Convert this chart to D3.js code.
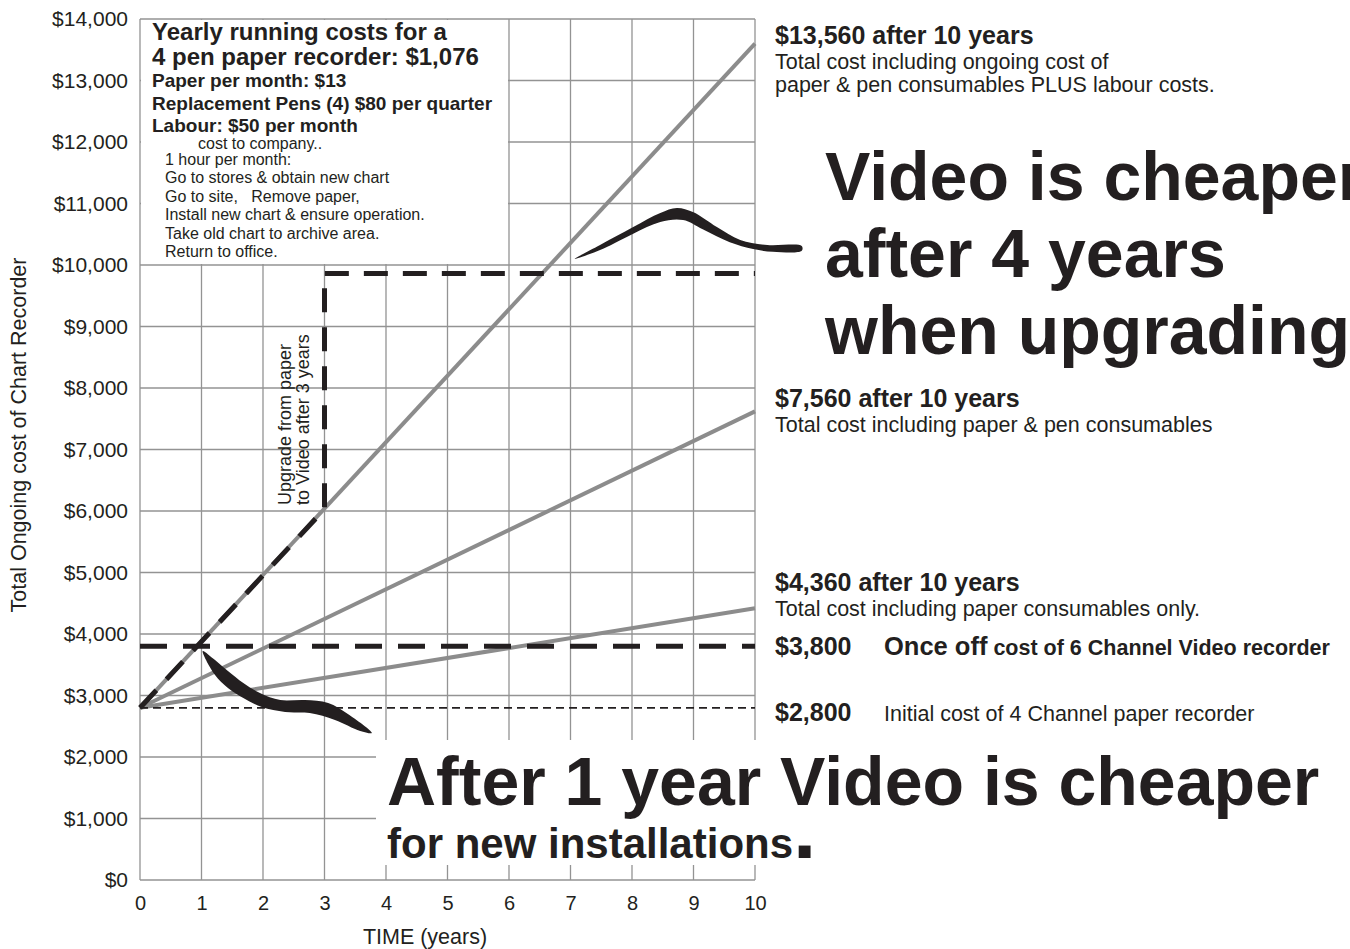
<!DOCTYPE html>
<html>
<head>
<meta charset="utf-8">
<script src="https://cdn.jsdelivr.net/npm/d3@7.9.0/dist/d3.min.js"></script>
<style>
  body { margin: 0; background: #fff; }
  svg { display: block; font-family: "Liberation Sans", Arial, sans-serif; }
  text { fill: #231f20; white-space: pre; }
</style>
</head>
<body>
<svg id="chart" width="1350" height="949"></svg>
<script>
// ---- data (years / dollars) ----
const xTicks = [0, 1, 2, 3, 4, 5, 6, 7, 8, 9, 10];
const yTicks = [0, 1000, 2000, 3000, 4000, 5000, 6000, 7000, 8000, 9000, 10000, 11000, 12000, 13000, 14000];
const lineYears = [0, 10];
const labourCost = [2800, 13600];   // paper + pens + labour
const pensCost = [2800, 7620];      // paper + pens
const paperCost = [2800, 4420];     // paper only
const endLabels = [13560, 7560, 4360];
const videoCost = 3800;
const paperRecorderCost = 2800;
const upgradePath = [[0, 2800], [3, 6030], [3, 9860], [10, 9860]];
// decorative swooshes, outline in data units
const upperSwoosh = [[7.07, 10100], [7.48, 10325], [8.02, 10618], [8.46, 10846], [8.73, 10927], [8.99, 10862],
  [9.38, 10618], [9.76, 10407], [10.2, 10325], [10.76, 10309], [10.76, 10230], [10.29, 10215], [9.97, 10260],
  [9.59, 10370], [9.15, 10580], [8.83, 10730], [8.46, 10700], [8.02, 10510], [7.53, 10266]];
const lowerSwoosh = [[1.02, 3724], [1.22, 3577], [1.43, 3398], [1.68, 3203], [1.95, 3041], [2.28, 2927],
  [2.68, 2927], [3.06, 2878], [3.38, 2699], [3.77, 2390], [3.58, 2423], [3.17, 2602], [2.76, 2715],
  [2.36, 2732], [1.98, 2813], [1.68, 2959], [1.43, 3122], [1.22, 3333]];

const svg = d3.select("#chart");
const x = d3.scaleLinear().domain([0, 10]).range([140, 755]);
const y = d3.scaleLinear().domain([0, 14000]).range([880, 19]);
const ink = "#231f20";
const gridColor = "#939393";
const lineColor = "#8c8c8c";

// grid
const grid = svg.append("g").attr("stroke", gridColor).attr("stroke-width", 1.3);
grid.selectAll("line.v").data(xTicks).join("line")
  .attr("x1", (d) => x(d)).attr("x2", (d) => x(d))
  .attr("y1", y(0)).attr("y2", y(14000));
grid.selectAll("line.h").data(yTicks).join("line")
  .attr("x1", x(0)).attr("x2", x(10))
  .attr("y1", (d) => y(d)).attr("y2", (d) => y(d));

// white panels behind the text blocks
svg.append("rect")
  .attr("x", x(0) + 1).attr("y", y(14000) + 1)
  .attr("width", x(6) - x(0) - 2).attr("height", y(10000) - y(14000) - 2)
  .attr("fill", "#fff");
svg.append("rect")
  .attr("x", 376).attr("y", 740).attr("width", 970).attr("height", 125)
  .attr("fill", "#fff");

// cost lines
const line = d3.line().x((d) => x(d[0])).y((d) => y(d[1]));
[labourCost, pensCost, paperCost].forEach((vals) => {
  svg.append("path")
    .attr("d", line(lineYears.map((yr, i) => [yr, vals[i]])))
    .attr("fill", "none")
    .attr("stroke", lineColor)
    .attr("stroke-width", 4);
});

// recorder purchase costs
svg.append("line")
  .attr("x1", x(0)).attr("x2", x(10))
  .attr("y1", y(paperRecorderCost)).attr("y2", y(paperRecorderCost))
  .attr("stroke", ink).attr("stroke-width", 1.8).attr("stroke-dasharray", "8,5");
svg.append("line")
  .attr("x1", x(0)).attr("x2", x(10))
  .attr("y1", y(videoCost)).attr("y2", y(videoCost))
  .attr("stroke", ink).attr("stroke-width", 5).attr("stroke-dasharray", "27,16");

// upgrade path
svg.append("path")
  .attr("d", line(upgradePath))
  .attr("fill", "none")
  .attr("stroke", ink)
  .attr("stroke-width", 5)
  .attr("stroke-dasharray", "24,15");

// swooshes
const shape = d3.line().x((d) => x(d[0])).y((d) => y(d[1])).curve(d3.curveCatmullRomClosed);
[upperSwoosh, lowerSwoosh].forEach((pts) => {
  svg.append("path").attr("d", shape(pts)).attr("fill", ink);
});

// axes labels
const yAxis = svg.append("g")
  .attr("transform", `translate(${x(0)},0)`)
  .call(d3.axisLeft(y).tickValues(yTicks).tickSize(0).tickPadding(12).tickFormat(d3.format("$,")));
yAxis.select(".domain").remove();
yAxis.selectAll("text").attr("font-size", 21).attr("font-family", null).attr("fill", ink);

const xAxis = svg.append("g")
  .attr("transform", `translate(0,${y(0)})`)
  .call(d3.axisBottom(x).tickValues(xTicks).tickSize(0).tickPadding(16));
xAxis.select(".domain").remove();
xAxis.selectAll("text").attr("font-size", 20).attr("font-family", null).attr("fill", ink);

svg.append("text")
  .attr("transform", "translate(26,435) rotate(-90)")
  .attr("text-anchor", "middle").attr("font-size", 21.5)
  .text("Total Ongoing cost of Chart Recorder");
svg.append("text")
  .attr("x", 425).attr("y", 944)
  .attr("text-anchor", "middle").attr("font-size", 21.5)
  .text("TIME (years)");

// helper
function label(xp, yp, str, size, bold) {
  return svg.append("text")
    .attr("x", xp).attr("y", yp)
    .attr("font-size", size)
    .attr("font-weight", bold ? "bold" : "normal")
    .text(str);
}

// running cost box
label(152, 40, "Yearly running costs for a", 24, true);
label(152, 65, "4 pen paper recorder: $1,076", 24, true);
label(152, 87, "Paper per month: $13", 19, true);
label(152, 110, "Replacement Pens (4) $80 per quarter", 19, true);
label(152, 132, "Labour: $50 per month", 19, true);
label(198, 149, "cost to company..", 16, false);
[
  "1 hour per month:",
  "Go to stores & obtain new chart",
  "Go to site,   Remove paper,",
  "Install new chart & ensure operation.",
  "Take old chart to archive area.",
  "Return to office."
].forEach((s, i) => label(165, 165 + i * 18.4, s, 16, false));

// upgrade note
svg.append("text").attr("transform", "translate(291,505) rotate(-90)")
  .attr("font-size", 18).text("Upgrade from paper");
svg.append("text").attr("transform", "translate(309,505) rotate(-90)")
  .attr("font-size", 18).text("to Video after 3 years");

// right side annotations
const fmt = d3.format("$,");
label(775, 44, `${fmt(endLabels[0])} after 10 years`, 25, true);
label(775, 69, "Total cost including ongoing cost of", 21.5, false);
label(775, 92, "paper & pen consumables PLUS labour costs.", 21.5, false);

label(775, 407, `${fmt(endLabels[1])} after 10 years`, 25, true);
label(775, 432, "Total cost including paper & pen consumables", 21.5, false);

label(775, 591, `${fmt(endLabels[2])} after 10 years`, 25, true);
label(775, 616, "Total cost including paper consumables only.", 21.5, false);

label(775, 655, fmt(videoCost), 25, true);
const once = label(884, 655, "Once off", 25.5, true);
once.append("tspan").attr("font-size", 21.5).text(" cost of 6 Channel Video recorder");

label(775, 721, fmt(paperRecorderCost), 25, true);
label(884, 721, "Initial cost of 4 Channel paper recorder", 21.5, false);

// headlines
label(825, 200, "Video is cheaper", 68, true);
label(825, 277, "after 4 years", 68, true);
label(825, 354, "when upgrading", 68, true);

label(387, 805, "After 1 year Video is cheaper", 68, true);
const inst = label(387, 858, "for new installations", 42, true);
inst.append("tspan").attr("font-size", 84).text(".");
</script>
</body>
</html>
